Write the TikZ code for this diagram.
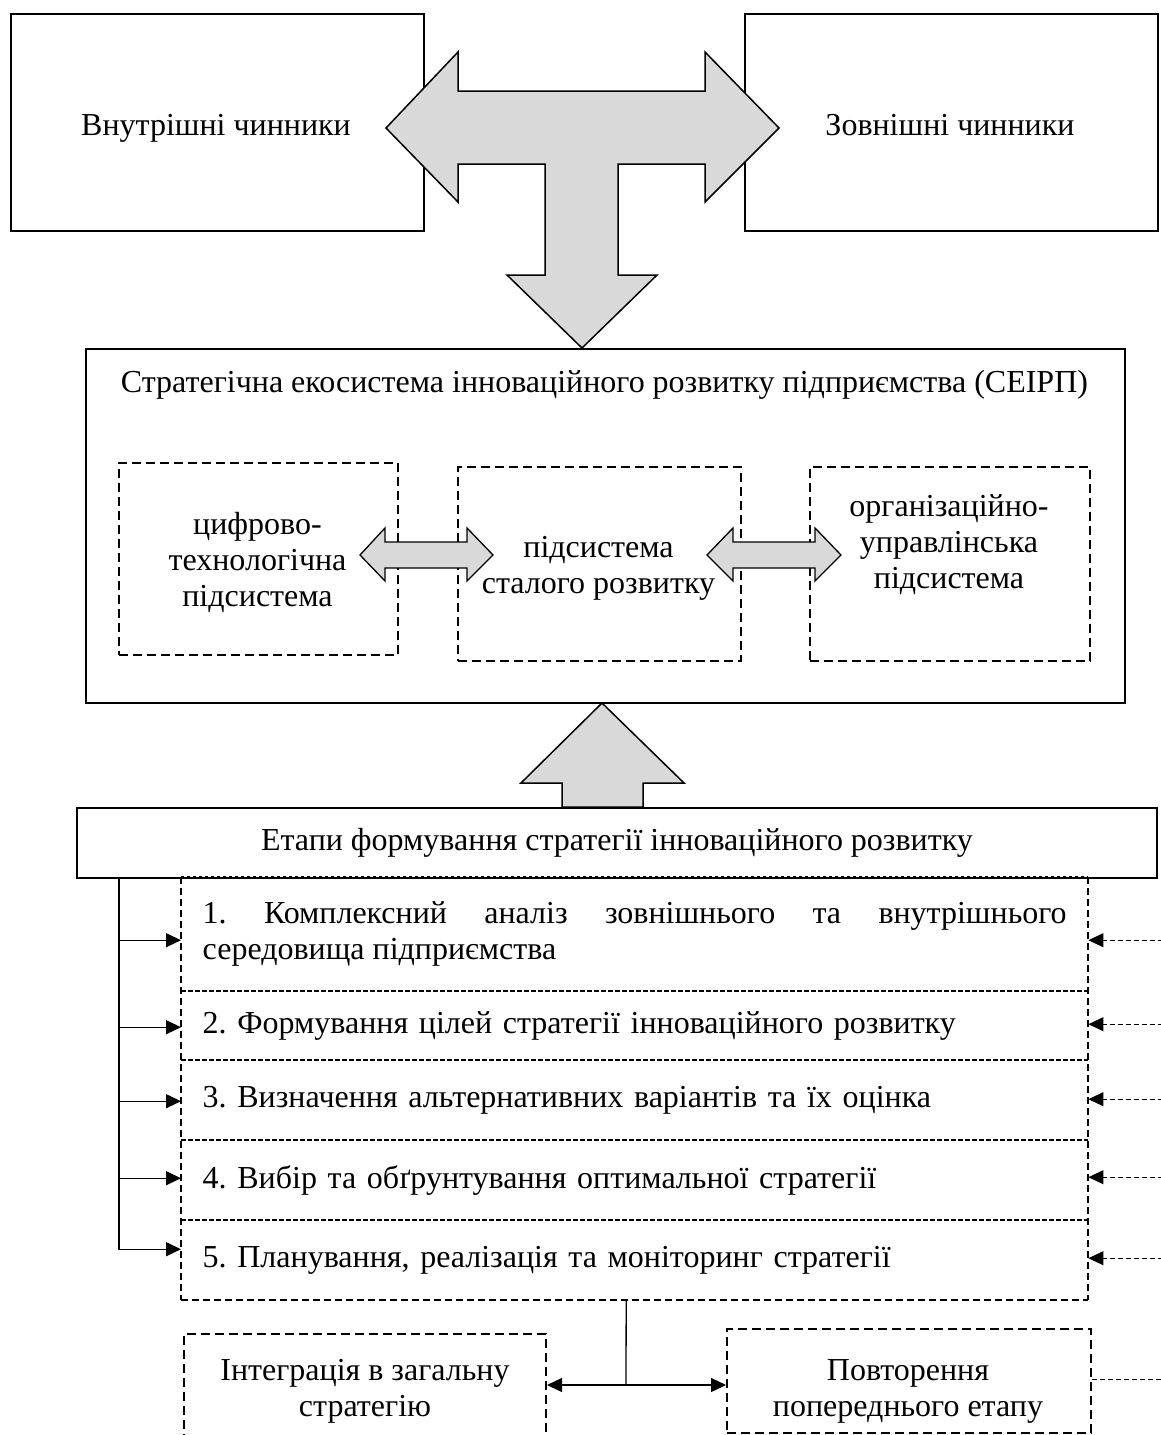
\documentclass[tikz,border=0pt]{standalone}
\usepackage{fontspec}
\setmainfont{Liberation Serif}
\usetikzlibrary{arrows.meta}
\definecolor{arrowgray}{RGB}{217,217,217}
\begin{document}
\begin{tikzpicture}[x=1pt,y=-1pt,
  every node/.style={font=\fontsize{32}{36}\selectfont\frenchspacing},
  solidbox/.style={draw, line width=2pt, rectangle, inner sep=0pt, anchor=north west},
  dbox/.style={draw, line width=2pt, dash pattern=on 9pt off 5pt, rectangle, inner sep=0pt, anchor=north west},
  stagebox/.style={rectangle, inner ysep=0pt, inner xsep=0pt,
    anchor=north west, minimum width=907pt, text width=864pt, align=left},
  sidedash/.style={line width=2pt, dash pattern=on 7pt off 4pt},
  divdash/.style={line width=2pt, dash pattern=on 5pt off 2pt},
  topdot/.style={line width=1.5pt, dash pattern=on 3pt off 3pt},
  txt/.style={inner sep=0pt, align=center},
  bigarrow/.style={fill=arrowgray, draw=black, line width=1.5pt, line join=miter},
  conn/.style={line width=1.3pt, -{Triangle[length=15pt,width=14pt]}},
  dconn/.style={line width=1pt, dash pattern=on 5pt off 3pt, -{Triangle[length=15pt,width=14pt]}},
  thinline/.style={line width=1.3pt},
]
\useasboundingbox (0,0) rectangle (1161,1435);

% top boxes
\node[solidbox, minimum width=413.5pt, minimum height=217pt] (inner) at (9.5,13) {};
\node[solidbox, minimum width=413pt, minimum height=217pt] (outer) at (744,13) {};
\node[txt, anchor=base] (tinner) at (216,135) {Внутрішні чинники};
\node[txt, anchor=base] (touter) at (950,135) {Зовнішні чинники};

% main box
\node[solidbox, minimum width=1039pt, minimum height=354pt] (main) at (85,348) {};
\node[txt, anchor=base] (tmain) at (604.5,392) {Стратегічна екосистема інноваційного розвитку підприємства (СЕІРП)};

% subsystem boxes
\node[dbox, minimum width=279pt, minimum height=192pt] (sa) at (118,462) {};
\node[dbox, minimum width=283pt, minimum height=194pt] (sb) at (457,466) {};
\node[dbox, minimum width=280pt, minimum height=194pt] (sc) at (809,466) {};
\node[txt] (ta) at (257.5,562) {цифрово-\\технологічна\\підсистема};
\node[txt] (tb) at (598.5,568) {підсистема\\сталого розвитку};
\node[txt] (tc) at (949,545) {організаційно-\\управлінська\\підсистема};

% big T arrow
\draw[bigarrow] (386,128) -- (458,52) -- (458,91) -- (705,91) -- (705,52) -- (779,128)
  -- (705,202) -- (705,164) -- (618,164) -- (618,275) -- (657,275) -- (582,348)
  -- (507,275) -- (545,275) -- (545,164) -- (458,164) -- (458,202) -- cycle;

% small double arrows
\draw[bigarrow, line width=1.3pt] (360,555) -- (385,528) -- (385,542) -- (467,542) -- (467,528) -- (493,555)
  -- (467,581) -- (467,568) -- (385,568) -- (385,581) -- cycle;
\draw[bigarrow, line width=1.3pt] (707,555) -- (733,528) -- (733,542) -- (815,542) -- (815,528) -- (841,555)
  -- (815,581) -- (815,568) -- (733,568) -- (733,581) -- cycle;

% stages header
\node[solidbox, minimum width=1080pt, minimum height=70pt] (etapy) at (76,807) {Етапи формування стратегії інноваційного розвитку};

% up arrow
\draw[bigarrow] (602,703) -- (684,783) -- (643,783) -- (643,807) -- (562,807) -- (562,783) -- (521,783) -- cycle;

% stage boxes
\node[stagebox, minimum height=114pt, align=justify] (s1) at (181,877)
  {\hyphenpenalty=10000 1.~Комплексний аналіз зовнішнього та внутрішнього\linebreak середовища підприємства};
\node[stagebox, minimum height=69pt] (s2) at (181,991) {2. Формування цілей стратегії інноваційного розвитку};
\node[stagebox, minimum height=80pt] (s3) at (181,1060) {3. Визначення альтернативних варіантів та їх оцінка};
\node[stagebox, minimum height=80pt] (s4) at (181,1140) {4. Вибір та обґрунтування оптимальної стратегії};
\node[stagebox, minimum height=80pt] (s5) at (181,1220) {5. Планування, реалізація та моніторинг стратегії};

% stage outlines
\draw[topdot] (s1.north west) -- (s1.north east);
\draw[sidedash] (s1.north west) -- (s5.south west);
\draw[sidedash] (s1.north east) -- (s5.south east);
\foreach \k in {1,2,3,4} { \draw[divdash] (s\k.south west) -- (s\k.south east); }
\draw[sidedash] (s5.south west) -- (s5.south east);

% connector end points
\coordinate (l1) at ([yshift=-6pt]s1.west);
\coordinate (l2) at ([yshift=-1.5pt]s2.west);
\coordinate (l3) at ([yshift=-1pt]s3.west);
\coordinate (l4) at ([yshift=2pt]s4.west);
\coordinate (l5) at ([yshift=11pt]s5.west);
\coordinate (r1) at ([yshift=-6pt]s1.east);
\coordinate (r2) at ([yshift=1.5pt]s2.east);
\coordinate (r3) at ([yshift=1pt]s3.east);
\coordinate (r4) at ([yshift=3pt]s4.east);
\coordinate (r5) at ([yshift=2pt]s5.east);

% left bracket
\coordinate (br) at (119,877);
\draw[conn] (br) |- (l5);
\foreach \k in {1,2,3,4} { \draw[conn] (br |- l\k) -- (l\k); }

% right dashed arrows
\coordinate (rx) at (1163,877);
\foreach \k in {1,2,3,4,5} { \draw[dconn] (rx |- r\k) -- (r\k); }

% bottom boxes
\node[dbox, minimum width=362pt, minimum height=114pt, align=center] (integ) at (183,1333) {Інтеграція в загальну\\стратегію};
\node[dbox, minimum width=364pt, minimum height=104pt] (povt) at (726,1328) {};
\node[txt] (tpovt) at (908,1391) {Повторення\\попереднього етапу};

% bottom connectors
\coordinate (mid) at (626,1385);
\coordinate (top5) at ([xshift=-8.5pt]s5.south);
\coordinate (pe) at ([yshift=2pt]povt.east);
\draw[thinline] (top5) -- (mid);
\draw[line width=1.3pt, {Triangle[length=15pt,width=14pt]}-{Triangle[length=15pt,width=14pt]}] (integ.east |- mid) -- (povt.west |- mid);
\draw[line width=1pt, dash pattern=on 5pt off 3pt] (pe) -- (rx |- pe);
\end{tikzpicture}
\end{document}
